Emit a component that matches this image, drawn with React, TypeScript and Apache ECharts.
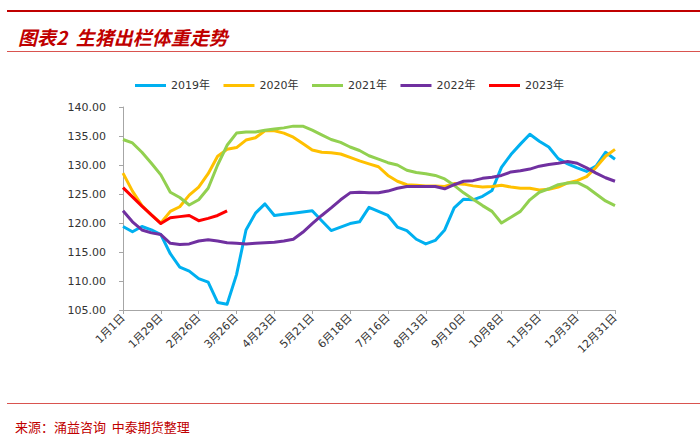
import React, { useEffect, useRef } from "react";
import * as echarts from "echarts";

const categories = [
  "1月1日", "1月8日", "1月15日", "1月22日", "1月29日", "2月5日", "2月12日", "2月19日", "2月26日",
  "3月5日", "3月12日", "3月19日", "3月26日", "4月2日", "4月9日", "4月16日", "4月23日", "4月30日",
  "5月7日", "5月14日", "5月21日", "5月28日", "6月4日", "6月11日", "6月18日", "6月25日", "7月2日",
  "7月9日", "7月16日", "7月23日", "7月30日", "8月6日", "8月13日", "8月20日", "8月27日", "9月3日",
  "9月10日", "9月17日", "9月24日", "10月1日", "10月8日", "10月15日", "10月22日", "10月29日", "11月5日",
  "11月12日", "11月19日", "11月26日", "12月3日", "12月10日", "12月17日", "12月24日", "12月31日",
];

const seriesNames = ["2019年", "2020年", "2021年", "2022年", "2023年"];
const seriesColors = ["#00B0F0", "#FFC000", "#92D050", "#7030A0", "#FF0000"];

const y2019 = [
  119.4, 118.5, 119.4, 118.8, 118.0, 114.7, 112.4, 111.7, 110.4, 109.8, 106.3, 106.0, 111.1,
  118.8, 121.7, 123.3, 121.3, 121.5, 121.7, 121.9, 122.1, 120.4, 118.7, 119.3, 119.9, 120.2,
  122.7, 122.0, 121.3, 119.3, 118.7, 117.2, 116.4, 117.0, 118.8, 122.6, 124.1, 124.0, 124.6,
  125.6, 129.6, 131.8, 133.6, 135.3, 134.1, 133.1, 131.1, 130.2, 129.5, 128.9, 129.8, 132.2, 131.0,
];
const y2020 = [
  128.6, 125.5, 123.0, 121.4, 120.0, 122.0, 122.8, 124.8, 126.2, 128.5, 131.5, 132.7, 133.0,
  134.3, 134.7, 135.9, 135.9, 135.5, 134.8, 133.7, 132.6, 132.2, 132.1, 131.9, 131.3, 130.7,
  130.2, 129.7, 128.2, 127.2, 126.6, 126.5, 126.4, 126.4, 126.3, 126.8, 126.7, 126.4, 126.2,
  126.3, 126.5, 126.2, 126.0, 126.0, 125.7, 125.8, 126.2, 126.9, 127.3, 128.0, 129.6, 131.5, 132.7,
];
const y2021 = [
  134.4, 133.8, 132.2, 130.3, 128.3, 125.3, 124.4, 123.1, 124.0, 126.0, 130.0, 133.4, 135.5,
  135.7, 135.7, 136.0, 136.2, 136.4, 136.7, 136.7, 136.0, 135.2, 134.4, 133.9, 133.1, 132.5,
  131.6, 131.0, 130.4, 130.0, 129.1, 128.7, 128.5, 128.2, 127.6, 126.5, 125.2, 124.1, 123.0,
  122.0, 120.0, 121.0, 122.0, 124.0, 125.3, 125.9, 126.6, 126.9, 127.0, 126.2, 125.0, 123.8, 123.0,
];
const y2022 = [
  122.1, 120.2, 118.8, 118.3, 118.0, 116.5, 116.3, 116.4, 116.9, 117.1, 116.9, 116.6, 116.5,
  116.4, 116.5, 116.6, 116.7, 116.9, 117.2, 118.4, 119.9, 121.3, 122.6, 124.0, 125.2, 125.3,
  125.2, 125.2, 125.5, 126.0, 126.3, 126.3, 126.3, 126.3, 125.9, 126.6, 127.2, 127.3, 127.7,
  127.9, 128.2, 128.8, 129.0, 129.3, 129.8, 130.1, 130.3, 130.6, 130.3, 129.5, 128.6, 127.8, 127.2,
];
const y2023 = [126.1, 124.5, 122.9, 121.4, 119.9, 120.9, 121.1, 121.3, 120.4, 120.8, 121.3, 122.1];

const seriesData = [y2019, y2020, y2021, y2022, y2023];

const titleText = "图表2  生猪出栏体重走势";
const sourceText = "来源：涌益咨询  中泰期货整理";

const FONT = "'DejaVu Sans', 'Noto Sans CJK SC', sans-serif";
const CJK = "'Noto Sans CJK SC', sans-serif";

export default function App() {
  const ref = useRef<HTMLDivElement>(null);

  useEffect(() => {
    if (!ref.current) return;
    const chart = echarts.init(ref.current, undefined, { renderer: "svg" });
    chart.setOption({
      animation: false,
      backgroundColor: "#ffffff",
      textStyle: { fontFamily: FONT },
      graphic: [
        { type: "rect", shape: { x: 7, y: 10, width: 693, height: 2 }, style: { fill: "#C00000" } },
        {
          type: "text",
          x: 18,
          y: 36,
          style: {
            text: titleText,
            fill: "#C00000",
            font: `italic bold 19px ${CJK}`,
            verticalAlign: "middle",
          },
        },
        { type: "rect", shape: { x: 7, y: 51, width: 693, height: 1 }, style: { fill: "#D9534F" } },
        { type: "rect", shape: { x: 7, y: 403, width: 693, height: 1 }, style: { fill: "#D9534F" } },
        {
          type: "text",
          x: 15,
          y: 426,
          style: {
            text: sourceText,
            fill: "#C00000",
            font: `13px ${CJK}`,
            verticalAlign: "middle",
          },
        },
      ],
      legend: {
        top: 75,
        left: 130,
        itemWidth: 31,
        itemHeight: 3,
        itemGap: 13.5,
        icon: "rect",
        textStyle: { fontSize: 11, color: "#333333", fontFamily: FONT },
        data: seriesNames,
      },
      grid: { left: 123, right: 85, top: 107, bottom: 129, containLabel: false },
      xAxis: {
        type: "category",
        data: categories,
        boundaryGap: false,
        axisLine: { lineStyle: { color: "#A6A6A6", width: 1 } },
        axisTick: { interval: 3, length: 4, lineStyle: { color: "#A6A6A6" } },
        axisLabel: {
          interval: 3,
          rotate: 45,
          fontSize: 11,
          color: "#333333",
          margin: 6,
          fontFamily: FONT,
        },
        splitLine: { show: false },
      },
      yAxis: {
        type: "value",
        min: 105,
        max: 140,
        interval: 5,
        axisLine: { show: true, lineStyle: { color: "#A6A6A6", width: 1 } },
        axisTick: { show: true, length: 4, lineStyle: { color: "#A6A6A6" } },
        axisLabel: {
          fontSize: 11,
          color: "#333333",
          margin: 17,
          fontFamily: FONT,
          formatter: (v: number) => v.toFixed(2),
        },
        splitLine: { show: false },
      },
      series: seriesNames.map((name, i) => ({
        name,
        type: "line",
        data: seriesData[i],
        showSymbol: false,
        symbol: "none",
        color: seriesColors[i],
        lineStyle: { width: 3, color: seriesColors[i], join: "round" },
        z: 2 + (i === 4 ? 5 : 0),
      })),
    });
    return () => chart.dispose();
  }, []);

  return (
    <div
      ref={ref}
      style={{ position: "fixed", left: 0, top: 0, width: 700, height: 439, background: "#fff" }}
    />
  );
}
